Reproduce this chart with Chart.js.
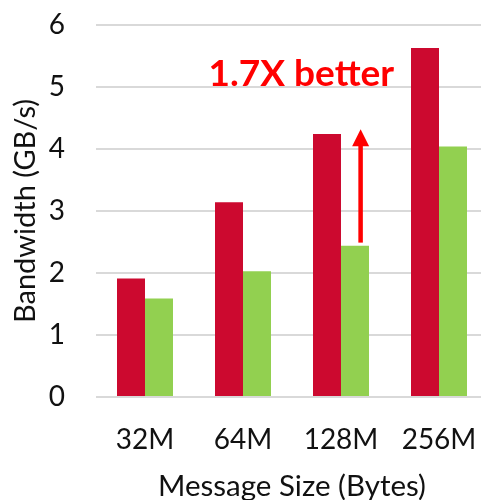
<!DOCTYPE html>
<html>
<head>
<meta charset="utf-8">
<script src="https://cdn.jsdelivr.net/npm/chart.js@4"></script>
<style>
  html, body { margin: 0; padding: 0; background: #ffffff; overflow: hidden; }
  #wrap { width: 490px; height: 500px; }
</style>
</head>
<body>
<div id="wrap"><canvas id="c" width="490" height="500"></canvas></div>
<script>
// Message sizes on the x axis
const categories = ['32M', '64M', '128M', '256M'];
// Bandwidth in GB/s for each message size
const optimizedBandwidth = [1.91, 3.14, 4.24, 5.63];
const baselineBandwidth = [1.59, 2.03, 2.44, 4.04];
// Bandwidth axis ticks
const yTicks = [0, 1, 2, 3, 4, 5, 6];
const speedupText = '1.7X better';

const FONT = 'Lato, "Open Sans", "DejaVu Sans", sans-serif';

// Speed-up callout: label above the 128M group and an arrow from the
// baseline bar height up to the optimized bar height.
const speedupCallout = {
  id: 'speedupCallout',
  afterDatasetsDraw(chart) {
    const { ctx, scales: { x, y } } = chart;
    const idx = 2;
    const ax = x.getPixelForValue(idx + 0.2);
    const yBottom = y.getPixelForValue(baselineBandwidth[idx] + 0.05);
    const yTip = y.getPixelForValue(optimizedBandwidth[idx] + 0.08);
    const headH = 17, headW = 17, shaft = 4.5;
    ctx.save();
    ctx.fillStyle = '#FF0000';
    ctx.fillRect(ax - shaft / 2, yTip + headH - 1, shaft, yBottom - (yTip + headH - 1));
    ctx.beginPath();
    ctx.moveTo(ax, yTip);
    ctx.lineTo(ax + headW / 2, yTip + headH);
    ctx.lineTo(ax - headW / 2, yTip + headH);
    ctx.closePath();
    ctx.fill();

    ctx.font = 'bold 37px ' + FONT;
    ctx.textAlign = 'center';
    ctx.textBaseline = 'alphabetic';
    ctx.fillText(speedupText, x.getPixelForValue(1.595), y.getPixelForValue(5.0) - 1);
    ctx.restore();
  }
};

new Chart(document.getElementById('c'), {
  type: 'bar',
  data: {
    labels: categories,
    datasets: [
      { label: 'Optimized', data: optimizedBandwidth, backgroundColor: '#CC092F' },
      { label: 'Baseline', data: baselineBandwidth, backgroundColor: '#92D050' }
    ]
  },
  options: {
    responsive: false,
    devicePixelRatio: 1,
    animation: false,
    categoryPercentage: 0.5714,
    barPercentage: 1.0,
    layout: { padding: { top: 25, right: 2, bottom: 0, left: 0 } },
    plugins: { legend: { display: false }, tooltip: { enabled: false } },
    scales: {
      x: {
        grid: { display: false, drawTicks: false },
        border: { display: false },
        ticks: { font: { family: FONT, size: 28 }, color: '#111111', padding: 26 },
        title: {
          display: true, text: 'Message Size (Bytes)',
          font: { family: FONT, size: 29.5 }, color: '#111111',
          padding: { top: 0, bottom: -4 }
        },
        afterFit(scale) {
          scale.height = 103;
          scale.paddingLeft = 0;
          scale.paddingRight = 0;
        }
      },
      y: {
        min: 0, max: 6,
        afterBuildTicks(scale) { scale.ticks = yTicks.map(v => ({ value: v })); },
        grid: { color: '#D9D9D9', lineWidth: 2, drawTicks: false },
        border: { display: false },
        ticks: { font: { family: FONT, size: 28 }, color: '#111111', padding: 31 },
        title: {
          display: true, text: 'Bandwidth (GB/s)',
          font: { family: FONT, size: 29 }, color: '#111111',
          padding: { top: 8, bottom: 0 }
        },
        afterFit(scale) {
          scale.width = 96;
          scale.paddingTop = 0;
          scale.paddingBottom = 0;
        }
      }
    }
  },
  plugins: [speedupCallout]
});
</script>
</body>
</html>
